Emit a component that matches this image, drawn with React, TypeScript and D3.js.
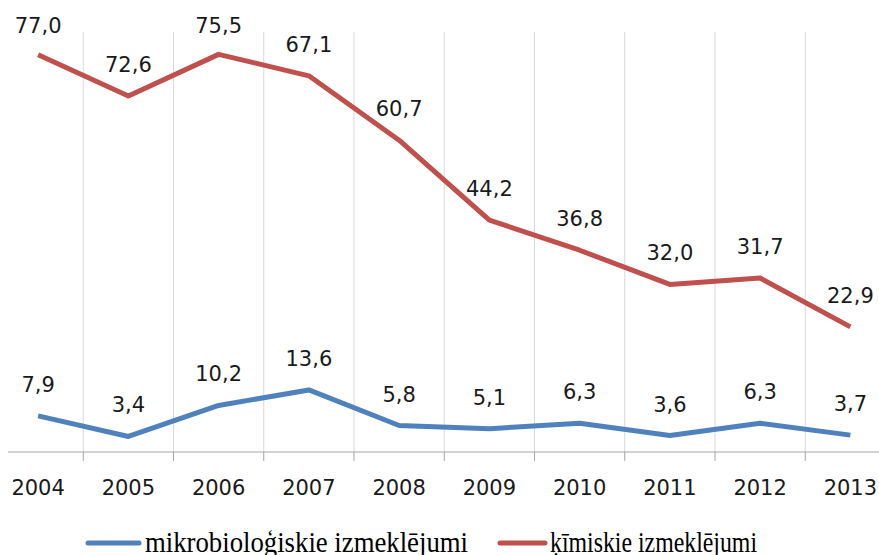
import * as d3 from "d3";

const years = ["2004", "2005", "2006", "2007", "2008", "2009", "2010", "2011", "2012", "2013"];
const microValues = [7.9, 3.4, 10.2, 13.6, 5.8, 5.1, 6.3, 3.6, 6.3, 3.7];
const chemValues = [77.0, 72.6, 75.5, 67.1, 60.7, 44.2, 36.8, 32.0, 31.7, 22.9];
// the red line in the source does not sit where its labels say, so keep where it's drawn
const chemLine = [87.0, 78.0, 87.1, 82.4, 68.3, 50.8, 44.2, 36.7, 38.1, 27.4];
const seriesNames = ["mikrobioloģiskie izmeklējumi", "ķīmiskie izmeklējumi"];
const seriesColors = ["#4F81BD", "#C0504D"];

const width = 879;
const height = 555;
const plotLeft = 8;
const plotTop = 32;
const plotBottom = 452;

const fmt = (v: number) => v.toFixed(1).replace(".", ",");

export default function App() {
  const x = d3.scaleBand<string>().domain(years).range([-7, 895.5]);
  const y = d3.scaleLinear().domain([0, 92]).range([plotBottom, plotTop]);
  const cx = (d: string) => (x(d) ?? 0) + x.bandwidth() / 2;
  const line = d3
    .line<number>()
    .x((_, i) => cx(years[i]))
    .y((d) => y(d));

  const bounds = years.slice(1).map((d) => x(d) ?? 0);
  const series = [
    { name: seriesNames[0], color: seriesColors[0], line: microValues, labels: microValues },
    { name: seriesNames[1], color: seriesColors[1], line: chemLine, labels: chemValues },
  ];
  const labelFont = "'DejaVu Sans', sans-serif";

  return (
    <svg
      width={width}
      height={height}
      style={{ position: "absolute", left: 0, top: 0, background: "#fff" }}
    >
      {/* vertical gridlines between categories */}
      {bounds.map((b, i) => (
        <line key={i} x1={b} x2={b} y1={plotTop} y2={plotBottom} stroke="#d9d9d9" strokeWidth={1} />
      ))}
      {/* x axis */}
      <line x1={plotLeft} x2={width} y1={plotBottom} y2={plotBottom} stroke="#a6a6a6" strokeWidth={1} />
      {bounds.map((b, i) => (
        <line key={i} x1={b} x2={b} y1={plotBottom} y2={plotBottom + 9} stroke="#a6a6a6" strokeWidth={1} />
      ))}
      {years.map((d) => (
        <text
          key={d}
          x={cx(d)}
          y={495}
          textAnchor="middle"
          fontFamily={labelFont}
          fontSize={21}
          fill="#1a1a1a"
        >
          {d}
        </text>
      ))}

      {series.map((s) => (
        <g key={s.name}>
          <path d={line(s.line) ?? ""} fill="none" stroke={s.color} strokeWidth={5} strokeLinejoin="round" />
          {s.labels.map((v, i) => (
            <text
              key={i}
              x={cx(years[i])}
              y={Math.max(plotTop + 1, y(s.line[i]) - 24)}
              textAnchor="middle"
              fontFamily={labelFont}
              fontSize={21}
              fill="#1a1a1a"
            >
              {fmt(v)}
            </text>
          ))}
        </g>
      ))}

      {/* legend */}
      <g fontFamily="'Liberation Serif', 'Times New Roman', serif" fontSize={30} fill="#000">
        <line x1={88} x2={139} y1={543} y2={543} stroke={seriesColors[0]} strokeWidth={5} strokeLinecap="round" />
        <text x={145} y={552} textLength={323} lengthAdjust="spacingAndGlyphs">
          {seriesNames[0]}
        </text>
        <line x1={500} x2={545} y1={543} y2={543} stroke={seriesColors[1]} strokeWidth={5} strokeLinecap="round" />
        <text x={550} y={552} textLength={207} lengthAdjust="spacingAndGlyphs">
          {seriesNames[1]}
        </text>
      </g>
    </svg>
  );
}
